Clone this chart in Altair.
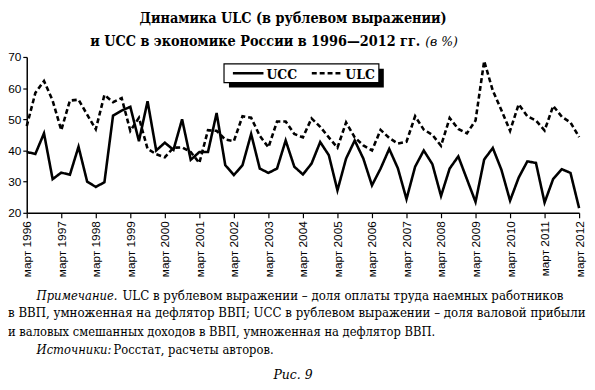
import altair as alt
import pandas as pd

years = list(range(1996, 2013))
months = ["март", "июнь", "сентябрь", "декабрь"]
quarters = [f"{m} {y}" for y in years for m in months][:65]
tick_labels = [f"март {y}" for y in years]

ucc = [39.5, 38.9, 45.5, 30.8, 32.9, 32.2, 41.2, 30.0,
       28.3, 29.8, 51.2, 52.8, 54.0, 43.0, 55.8, 40.0,
       42.5, 40.2, 50.0, 37.0, 39.5, 39.5, 52.0, 35.3,
       32.1, 35.3, 45.3, 34.2, 32.8, 34.2, 43.2, 34.8,
       32.3, 35.8, 42.7, 38.5, 27.2, 37.4, 43.2, 37.4,
       28.8, 34.2, 40.5, 34.3, 24.4, 34.8, 40.0, 35.6,
       25.4, 34.2, 38.1, 30.8, 23.5, 37.1, 40.8, 33.8,
       23.9, 31.3, 36.5, 36.0, 23.3, 30.9, 34.0, 32.8,
       21.5]
ulc = [47.8, 58.5, 62.3, 56.0, 46.5, 56.0, 56.3, 51.5,
       46.8, 57.8, 55.5, 56.8, 46.3, 50.5, 40.5, 38.8,
       37.8, 40.9, 41.0, 39.5, 36.0, 46.5, 46.3, 43.5,
       43.0, 51.0, 50.5, 44.7, 41.0, 49.3, 49.3, 45.3,
       44.2, 50.3, 47.6, 44.2, 40.9, 49.0, 44.2, 41.6,
       40.0, 46.6, 44.0, 42.2, 42.8, 51.0, 46.7, 45.0,
       41.5, 50.4, 46.9, 45.5, 49.6, 68.7, 59.2, 52.9,
       46.3, 54.8, 51.0, 49.6, 46.4, 54.3, 50.8, 49.0,
       44.3]
series_names = ["UCC", "ULC"]
series_dash = [[1, 0], [5, 3]]

title_line1 = "Динамика ULC (в рублевом выражении)"
title_line2 = "и UCC в экономике России в 1996—2012 гг."
title_unit = "(в %)"
note_lead = "Примечание."
note_line1 = "ULC в рублевом выражении – доля оплаты труда наемных работников"
note_line2 = "в ВВП, умноженная на дефлятор ВВП; UCC в рублевом выражении – доля валовой прибыли"
note_line3 = "и валовых смешанных доходов в ВВП, умноженная на дефлятор ВВП."
src_lead = "Источники:"
src_text = "Росстат, расчеты авторов."
fig_label = "Рис. 9"

df = pd.DataFrame({
    "q": quarters * 2,
    "series": [series_names[0]] * len(ucc) + [series_names[1]] * len(ulc),
    "value": ucc + ulc,
})
one = pd.DataFrame({"k": [0]})

SERIF = "'DejaVu Serif Condensed', 'DejaVu Serif', serif"
SANS = "Liberation Sans"

lines = alt.Chart(df).mark_line(color="black", strokeWidth=2.6).encode(
    x=alt.X("q:O", sort=quarters, title=None,
            scale=alt.Scale(type="point", padding=0),
            axis=alt.Axis(values=tick_labels, labelAngle=270, labelAlign="right",
                          labelBaseline="middle", tickSize=5, labelPadding=3,
                          labelFont=SANS, labelFontSize=12, labelColor="black",
                          domainColor="black", domainWidth=1.5, tickColor="black",
                          tickWidth=1.2, grid=False)),
    y=alt.Y("value:Q", title=None,
            scale=alt.Scale(domain=[20, 70], nice=False, zero=False),
            axis=alt.Axis(values=[20, 30, 40, 50, 60, 70], tickSize=4, labelPadding=2,
                          labelFont=SANS, labelFontSize=12, labelColor="black",
                          domainColor="black", domainWidth=1.5, tickColor="black",
                          tickWidth=1.2, grid=False)),
    strokeDash=alt.StrokeDash("series:N",
                              scale=alt.Scale(domain=series_names, range=series_dash),
                              legend=None),
)

# legend box with shadow
shadow = alt.Chart(one).mark_rect(color="black").encode(
    x=alt.value(205), x2=alt.value(362), y=alt.value(12), y2=alt.value(31)
)
box = alt.Chart(one).mark_rect(fill="white", stroke="black", strokeWidth=1.2).encode(
    x=alt.value(200), x2=alt.value(357), y=alt.value(7), y2=alt.value(26)
)
leg_ucc = alt.Chart(one).mark_rule(color="black", strokeWidth=2.6,
                                   strokeDash=series_dash[0]).encode(
    x=alt.value(209), x2=alt.value(240), y=alt.value(16.5)
)
leg_ulc = alt.Chart(one).mark_rule(color="black", strokeWidth=2.6,
                                   strokeDash=series_dash[1]).encode(
    x=alt.value(289), x2=alt.value(320), y=alt.value(16.5)
)


def txt(text, x, y, size, align="left", style="normal", weight="normal"):
    return alt.Chart(one).mark_text(
        text=text, font=SERIF, fontSize=size, align=align, baseline="alphabetic",
        fontStyle=style, fontWeight=weight, color="black"
    ).encode(x=alt.value(x), y=alt.value(y))


texts = [
    txt(series_names[0], 243, 22, 14, weight="bold"),
    txt(series_names[1], 323, 22, 14, weight="bold"),
    txt(title_line1, 270, -34, 14.5, align="center", weight="bold"),
    txt(title_line2, 399, -11, 14.5, align="right", weight="bold"),
    txt(title_unit, 404, -11, 14, style="italic"),
    txt(note_lead, 10, 246, 13, style="italic"),
    txt(note_line1, 97, 246, 13.3),
    txt(note_line2, -19, 264, 13.3),
    txt(note_line3, -19, 283, 13),
    txt(src_lead, 10, 301, 13, style="italic"),
    txt(src_text, 88, 301, 13),
    txt(fig_label, 270, 326, 14, align="center", style="italic"),
]

chart = alt.layer(lines, shadow, box, leg_ucc, leg_ulc, *texts).properties(
    width=560, height=158,
    padding={"left": 19, "top": 47, "right": 8, "bottom": 177},
    autosize=alt.AutoSizeParams(type="none"),
    background="white",
).configure_view(stroke=None)

chart.save("out.html", embed_options={"renderer": "svg", "actions": False})
